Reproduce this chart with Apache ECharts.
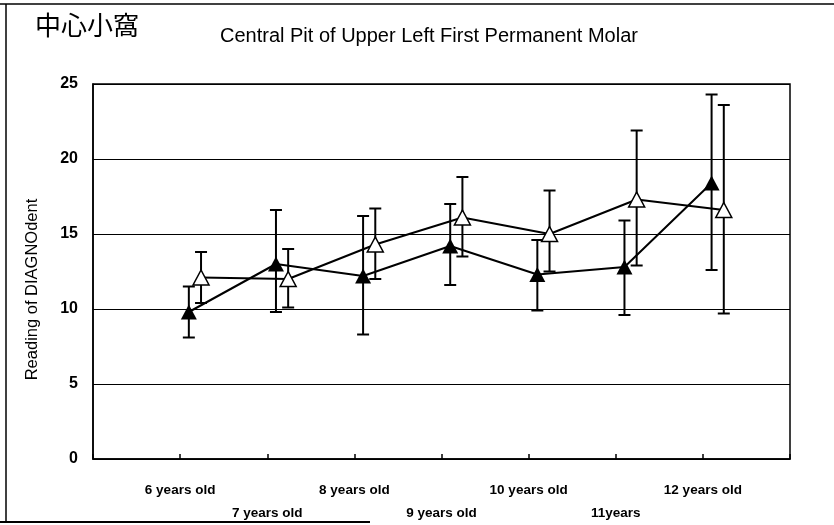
<!DOCTYPE html>
<html>
<head>
<meta charset="utf-8">
<script src="https://cdn.jsdelivr.net/npm/echarts@6/dist/echarts.min.js"></script>
<style>
html, body { margin: 0; padding: 0; background: #fff; }
#main { width: 834px; height: 525px; }
</style>
</head>
<body>
<div id="main"></div>
<script>
// 年齢
var ages = ['6 years old', '7 years old', '8 years old', '9 years old', '10 years old', '11years', '12 years old'];

// 黒三角
var filledMean  = [9.8, 13.0, 12.2, 14.2, 12.3, 12.8, 18.4];
var filledUpper = [11.5, 16.6, 16.2, 17.0, 14.6, 15.9, 24.3];
var filledLower = [8.1, 9.8, 8.3, 11.6, 9.9, 9.6, 12.6];

// 白三角
var openMean  = [12.1, 12.0, 14.3, 16.1, 15.0, 17.3, 16.6];
var openUpper = [13.8, 14.0, 16.7, 18.8, 17.9, 21.9, 23.6];
var openLower = [10.4, 10.1, 12.0, 13.5, 12.5, 12.9, 9.7];

var filledShift = 0.1;
var openShift = 0.24;

var yTicks = [0, 5, 10, 15, 20, 25];

function pts(mean, shift) {
    return mean.map(function (v, i) { return [i + 1 + shift, v]; });
}
function bars(upper, lower, shift) {
    return upper.map(function (v, i) { return [i + 1 + shift, v, lower[i]]; });
}

function renderBar(params, api) {
    var x = api.value(0);
    var hi = api.coord([x, api.value(1)]);
    var lo = api.coord([x, api.value(2)]);
    var hw = 6;
    var st = { stroke: '#000', lineWidth: 2 };
    return {
        type: 'group',
        children: [
            { type: 'line', shape: { x1: hi[0], y1: hi[1], x2: lo[0], y2: lo[1] }, style: st },
            { type: 'line', shape: { x1: hi[0] - hw, y1: hi[1], x2: hi[0] + hw, y2: hi[1] }, style: st },
            { type: 'line', shape: { x1: lo[0] - hw, y1: lo[1], x2: lo[0] + hw, y2: lo[1] }, style: st }
        ]
    };
}

var myChart = echarts.init(document.getElementById('main'));

option = {
    animation: false,
    backgroundColor: '#fff',
    textStyle: { fontFamily: 'Liberation Sans' },
    title: [
        {
            text: '中心小窩',
            left: 30,
            top: 7,
            textStyle: { fontSize: 26, fontWeight: 'normal', color: '#000', fontFamily: 'Noto Sans CJK JP' }
        },
        {
            text: 'Central Pit of Upper Left First Permanent Molar',
            left: 215,
            top: 21,
            textStyle: { fontSize: 20, fontWeight: 'normal', color: '#000' }
        }
    ],
    graphic: [
        { type: 'line', shape: { x1: 0, y1: 4, x2: 834, y2: 4 }, style: { stroke: '#000', lineWidth: 1.5 } },
        { type: 'line', shape: { x1: 6, y1: 4, x2: 6, y2: 522 }, style: { stroke: '#000', lineWidth: 1.5 } },
        { type: 'line', shape: { x1: 0, y1: 522, x2: 370, y2: 522 }, style: { stroke: '#000', lineWidth: 2 } }
    ],
    grid: {
        left: 93,
        right: 44,
        top: 84,
        bottom: 65,
        show: true,
        borderColor: '#000',
        borderWidth: 1.5
    },
    xAxis: {
        type: 'value',
        min: 0,
        max: 8,
        interval: 1,
        axisLine: { lineStyle: { color: '#000', width: 1.5 } },
        axisTick: { inside: true, length: 5, lineStyle: { color: '#000', width: 1.5 } },
        splitLine: { show: false },
        axisLabel: {
            color: '#000',
            fontSize: 13.5,
            fontWeight: 'bold',
            lineHeight: 23,
            margin: 20,
            formatter: function (v) {
                var i = Math.round(v) - 1;
                if (i < 0 || i >= ages.length) return '';
                return i % 2 ? '\n' + ages[i] : ages[i];
            }
        }
    },
    yAxis: {
        type: 'value',
        min: yTicks[0],
        max: yTicks[yTicks.length - 1],
        interval: 5,
        name: 'Reading of DIAGNOdent',
        nameLocation: 'middle',
        nameGap: 52,
        nameTextStyle: { fontSize: 16.5, color: '#000', padding: [0, 36, 0, 0] },
        axisLine: { show: true, lineStyle: { color: '#000', width: 1.5 } },
        axisTick: { show: false },
        splitLine: { lineStyle: { color: '#000', width: 1.2 } },
        axisLabel: { color: '#000', fontSize: 16, fontWeight: 'bold', margin: 15 }
    },
    series: [
        {
            type: 'custom',
            renderItem: renderBar,
            data: bars(filledUpper, filledLower, filledShift),
            z: 2
        },
        {
            type: 'custom',
            renderItem: renderBar,
            data: bars(openUpper, openLower, openShift),
            z: 2
        },
        {
            type: 'line',
            data: pts(filledMean, filledShift),
            symbol: 'triangle',
            symbolSize: [16, 15],
            itemStyle: { color: '#000' },
            lineStyle: { color: '#000', width: 2 },
            z: 3
        },
        {
            type: 'line',
            data: pts(openMean, openShift),
            symbol: 'triangle',
            symbolSize: [16, 15],
            itemStyle: { color: '#fff', borderColor: '#000', borderWidth: 1.5 },
            lineStyle: { color: '#000', width: 2 },
            z: 4
        }
    ]
};
myChart.setOption(option);
</script>
</body>
</html>
